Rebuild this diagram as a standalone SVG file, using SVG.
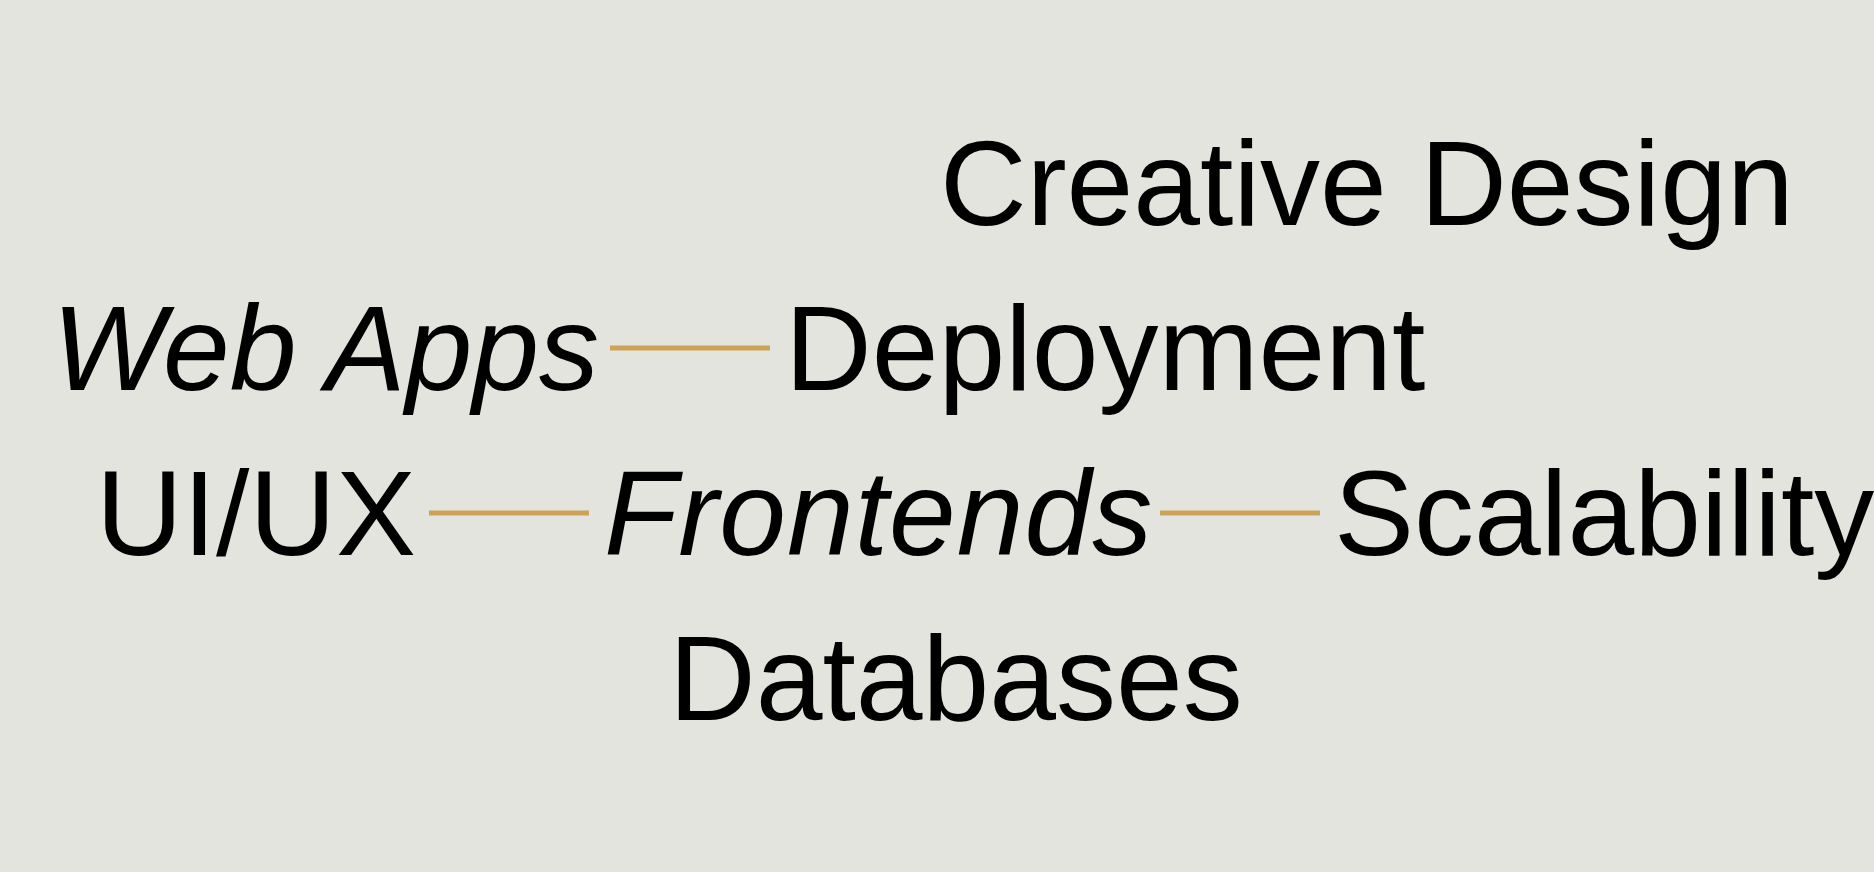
<svg xmlns="http://www.w3.org/2000/svg" width="1874" height="872" viewBox="0 0 1874 872">
<style>
.t{font-family:"Liberation Sans",Arial,sans-serif;font-size:120px;fill:#000}
.i{font-style:italic}
.c{stroke:#CDA457;stroke-width:5;fill:none}
</style>
<rect width="1874" height="872" fill="#E4E4DE"/>
<g id="connectors">
<line class="c" x1="610" y1="348" x2="770" y2="348"/>
<line class="c" x1="429" y1="513" x2="589" y2="513"/>
<line class="c" x1="1160" y1="513" x2="1320" y2="513"/>
</g>
<g id="creative-design"><text class="t" x="940" y="225">Creative Design</text></g>
<g id="web-apps"><text class="t i" x="52" y="390">Web Apps</text></g>
<g id="deployment"><text class="t" x="785" y="390">Deployment</text></g>
<g id="ui-ux"><text class="t" x="96" y="555">UI/UX</text></g>
<g id="frontends"><text class="t i" x="604" y="555" letter-spacing="1">Frontends</text></g>
<g id="scalability"><text class="t" x="1334" y="555">Scalability</text></g>
<g id="databases"><text class="t" x="669" y="720">Databases</text></g>
</svg>
